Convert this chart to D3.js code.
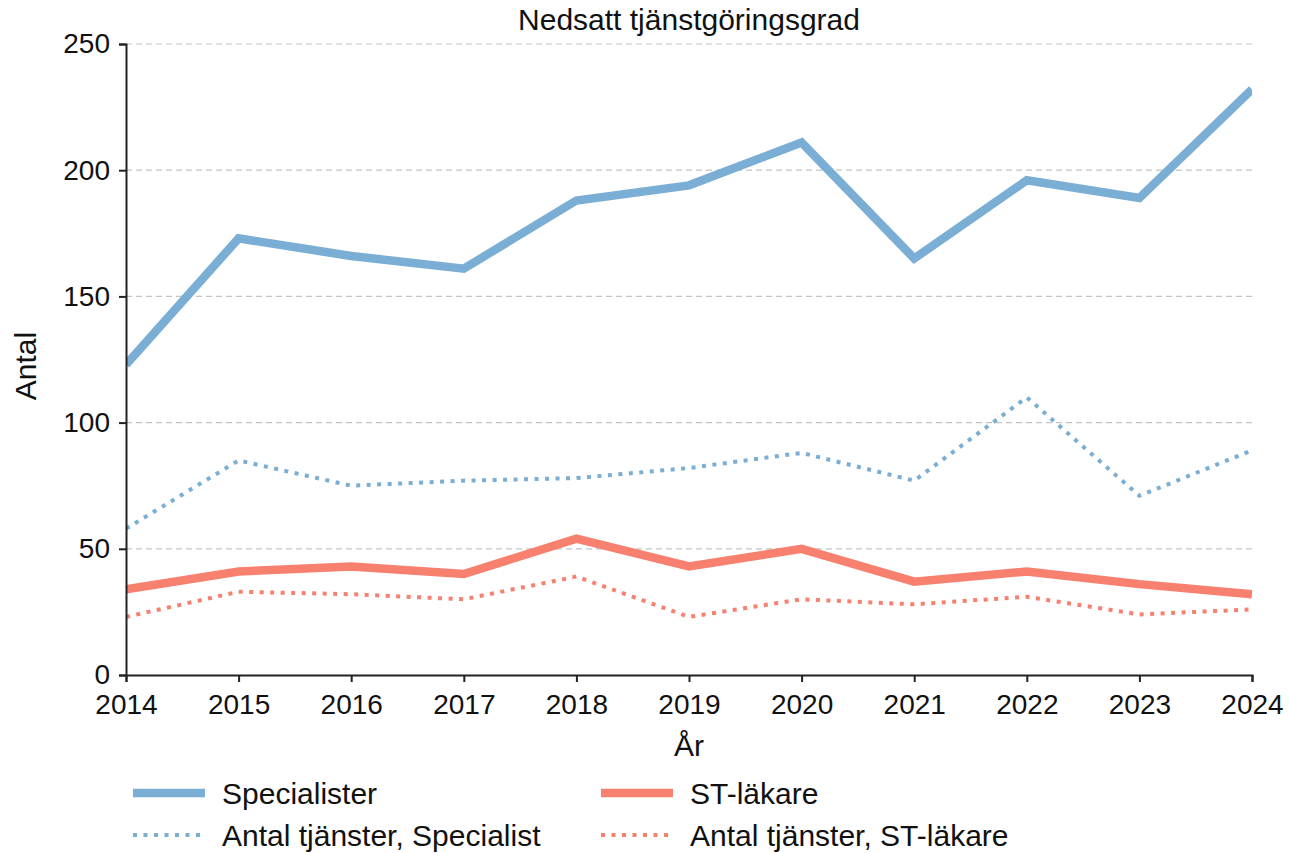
<!DOCTYPE html>
<html>
<head>
<script src="https://d3js.org/d3.v7.min.js"></script>
<style>
  body { margin: 0; background: #fff; font-family: "Liberation Sans", Arial, sans-serif; }
</style>
</head>
<body>
<svg id="chart" width="1290" height="853"></svg>
<script>
var years = [2014, 2015, 2016, 2017, 2018, 2019, 2020, 2021, 2022, 2023, 2024];
var specialister = [123, 173, 166, 161, 188, 194, 211, 165, 196, 189, 232];
var stLakare = [34, 41, 43, 40, 54, 43, 50, 37, 41, 36, 32];
var tjansterSpec = [58, 85, 75, 77, 78, 82, 88, 77, 110, 71, 89];
var tjansterST = [23, 33, 32, 30, 39, 23, 30, 28, 31, 24, 26];
var yTicks = [0, 50, 100, 150, 200, 250];

var blue = "#7aaed4", red = "#f7806f";
var series = [
  {name: "Specialister", values: specialister, color: blue, width: 8.5, dash: null},
  {name: "ST-läkare", values: stLakare, color: red, width: 8.5, dash: null},
  {name: "Antal tjänster, Specialist", values: tjansterSpec, color: blue, width: 4, dash: "4,6.5"},
  {name: "Antal tjänster, ST-läkare", values: tjansterST, color: red, width: 4, dash: "4,6.5"}
];

var plotLeft = 126, plotRight = 1252, plotTop = 44, plotBottom = 675;
var svg = d3.select("#chart");

var x = d3.scaleLinear().domain([2014, 2024]).range([plotLeft, plotRight]);
var y = d3.scaleLinear().domain([0, 250]).range([plotBottom, plotTop]);

// grid
svg.append("g").selectAll("line").data(yTicks.filter(function(d) { return d > 0; }))
  .enter().append("line")
  .attr("x1", plotLeft).attr("x2", plotRight)
  .attr("y1", function(d) { return y(d); }).attr("y2", function(d) { return y(d); })
  .attr("stroke", "#c4c4c4").attr("stroke-width", 1.2).attr("stroke-dasharray", "6,4");

svg.append("defs").append("clipPath").attr("id", "clip")
  .append("rect").attr("x", plotLeft).attr("y", plotTop - 2)
  .attr("width", plotRight - plotLeft).attr("height", plotBottom - plotTop + 2);

var line = d3.line()
  .x(function(d, i) { return x(years[i]); })
  .y(function(d) { return y(d); });

svg.append("g").attr("clip-path", "url(#clip)")
  .selectAll("path").data(series).enter().append("path")
  .attr("d", function(d) { return line(d.values); })
  .attr("fill", "none")
  .attr("stroke", function(d) { return d.color; })
  .attr("stroke-width", function(d) { return d.width; })
  .attr("stroke-dasharray", function(d) { return d.dash; })
  .attr("stroke-linejoin", "miter");

// axes
var xAxis = d3.axisBottom(x).tickValues(years).tickFormat(d3.format("d")).tickSizeOuter(0).tickSize(7).tickPadding(12);
var yAxis = d3.axisLeft(y).tickValues(yTicks).tickSizeOuter(0).tickSize(7).tickPadding(9);

var gx = svg.append("g").attr("transform", "translate(0," + plotBottom + ")").call(xAxis);
var gy = svg.append("g").attr("transform", "translate(" + plotLeft + ",0)").call(yAxis);
[gx, gy].forEach(function(g) {
  g.select(".domain").attr("stroke", "#222").attr("stroke-width", 2);
  g.selectAll(".tick line").attr("stroke", "#222").attr("stroke-width", 2);
  g.selectAll(".tick text").attr("fill", "#111").style("font-size", "28px")
    .style("font-family", "Liberation Sans, Arial, sans-serif");
});

// title & labels
svg.append("text").attr("x", 689).attr("y", 30).attr("text-anchor", "middle")
  .style("font-size", "30px").attr("fill", "#111").text("Nedsatt tjänstgöringsgrad");
svg.append("text").attr("x", 689).attr("y", 756).attr("text-anchor", "middle")
  .style("font-size", "30px").attr("fill", "#111").text("År");
svg.append("text").attr("transform", "translate(36,366) rotate(-90)").attr("text-anchor", "middle")
  .style("font-size", "30px").attr("fill", "#111").text("Antal");

// legend
var legendPos = [[133, 793], [601, 793], [133, 835], [601, 835]];
var leg = svg.append("g").selectAll("g").data(series).enter().append("g")
  .attr("transform", function(d, i) { return "translate(" + legendPos[i][0] + "," + legendPos[i][1] + ")"; });
leg.append("line").attr("x1", 0).attr("x2", 72).attr("y1", 0).attr("y2", 0)
  .attr("stroke", function(d) { return d.color; })
  .attr("stroke-width", function(d) { return d.width; })
  .attr("stroke-dasharray", function(d) { return d.dash; });
leg.append("text").attr("x", 89).attr("y", 11).style("font-size", "30px").attr("fill", "#111")
  .text(function(d) { return d.name; });
</script>
</body>
</html>
